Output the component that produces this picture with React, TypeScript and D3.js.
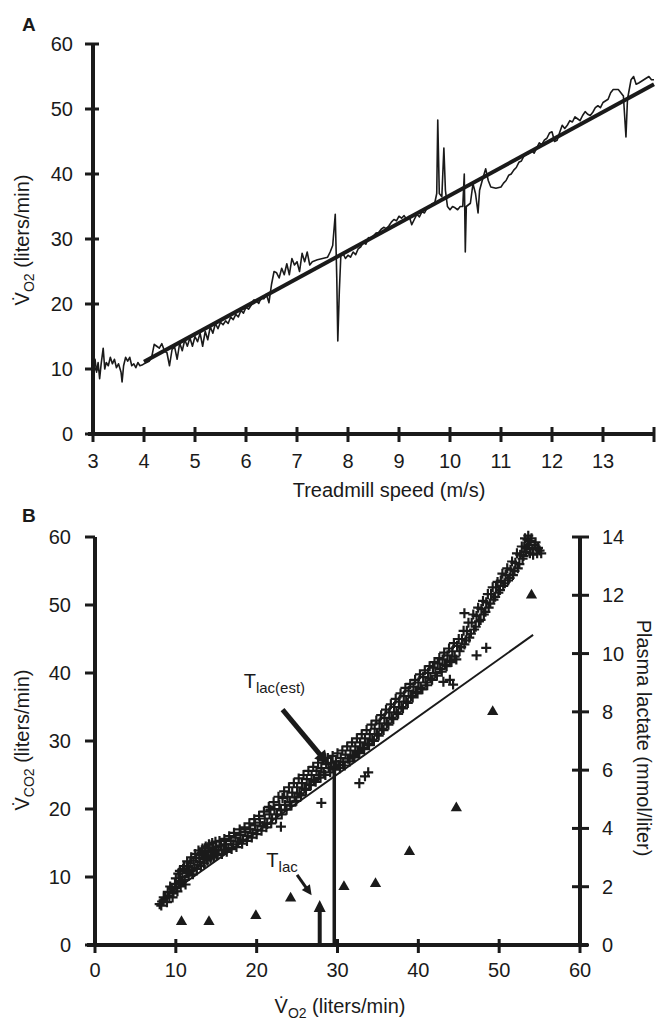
import React from 'react';
import * as d3 from 'd3';

// ---------- Panel A data ----------
const speedA = [3.00,3.04,3.07,3.10,3.13,3.16,3.20,3.23,3.26,3.30,3.34,3.38,3.42,3.46,3.50,3.55,3.57,3.60,3.64,3.68,3.72,3.76,3.80,3.84,3.88,3.92,3.96,4.00,4.05,4.10,4.15,4.20,4.25,4.30,4.35,4.40,4.45,4.50,4.55,4.60,4.65,4.70,4.75,4.80,4.85,4.90,4.95,5.00,5.05,5.10,5.15,5.20,5.25,5.30,5.35,
5.40,5.45,5.50,5.55,5.60,5.65,5.70,5.75,5.80,5.85,5.90,5.95,6.00,6.05,6.10,6.15,6.20,6.25,6.30,6.35,6.40,
6.45,6.50,6.55,6.60,6.65,6.70,6.75,6.80,6.85,6.90,6.95,7.00,7.05,7.10,7.15,7.20,7.25,7.30,7.40,7.50,7.60,7.65,7.70,7.75,7.78,7.80,7.83,7.86,
7.90,7.95,8.00,8.05,8.10,8.15,8.20,8.25,8.30,8.35,8.40,8.45,8.50,8.55,8.60,8.65,8.70,8.75,8.80,8.85,8.90,8.95,9.00,9.05,9.10,9.15,9.20,9.25,9.30,9.35,9.40,9.45,9.50,9.55,9.60,9.65,9.70,
9.74,9.76,9.79,9.84,9.88,9.91,9.95,10.00,10.05,10.10,10.15,10.20,10.25,10.28,10.30,10.32,10.40,10.45,10.50,10.55,10.58,10.65,10.70,10.75,10.80,10.90,
11.00,11.05,11.10,11.15,11.20,11.25,11.30,11.35,11.40,11.45,11.50,11.55,11.60,11.65,11.70,11.75,11.80,11.85,11.90,11.95,12.00,12.05,12.10,12.15,12.20,12.25,12.30,12.35,12.40,12.45,12.50,12.55,12.60,12.65,12.70,12.75,12.80,12.85,12.90,12.95,
13.00,13.10,13.15,13.20,13.30,13.40,13.45,13.48,13.55,13.60,13.65,13.70,13.80,13.90,13.95,14.00];
const vo2A = [10.5,11.5,9.5,11.0,8.5,10.8,13.2,10.0,11.0,10.5,11.8,10.8,11.5,10.2,10.8,9.5,8.0,10.5,11.8,11.2,11.8,10.5,10.8,10.2,11.0,10.5,10.6,10.8,11.0,11.2,11.8,13.8,13.5,13.2,13.9,12.8,12.5,10.5,13.0,13.4,11.5,14.0,12.8,14.5,13.5,14.8,13.5,15.0,14.2,15.5,13.5,15.8,14.5,16.5,15.5,
17.0,16.2,17.2,16.8,17.4,17.0,18.0,17.6,18.4,18.0,19.0,18.6,19.5,19.2,19.8,20.6,20.5,20.1,21.0,20.8,21.5,
20.2,23.0,25.0,24.8,24.0,25.5,24.5,26.2,24.5,27.0,26.0,26.5,25.0,27.8,26.5,28.0,26.0,26.5,26.8,27.0,27.2,28.0,29.0,33.8,24.0,14.3,22.0,27.5,
27.8,27.0,27.5,27.2,28.0,27.6,28.5,28.8,29.5,29.2,30.2,30.0,30.5,30.9,31.0,31.5,31.8,31.6,32.0,32.6,33.0,32.8,33.5,33.2,33.6,33.0,33.5,32.2,33.0,33.8,33.4,34.2,34.0,34.8,35.0,35.4,35.5,
37.0,48.3,37.0,36.5,44.0,37.5,35.0,34.5,35.0,34.8,34.5,35.0,35.0,40.0,28.0,35.0,35.5,38.5,37.0,34.0,37.5,39.5,40.8,39.0,38.0,37.8,
38.0,38.6,39.0,39.8,40.0,40.6,41.0,41.8,42.0,42.8,43.0,43.2,43.6,43.2,44.0,44.8,44.5,45.2,45.5,46.3,46.5,45.0,45.2,46.4,47.5,47.0,47.5,48.2,48.0,48.8,48.5,48.2,49.0,49.6,49.2,49.0,49.5,50.2,50.5,50.2,
51.0,51.5,52.5,53.0,53.0,52.0,45.7,51.5,54.5,55.0,53.8,54.0,54.5,55.0,54.5,54.5];
const fitSpeedA = [4, 14];
const fitVo2A = [11.1, 53.8];
const ticksXA = [3,4,5,6,7,8,9,10,11,12,13,14];
const labelsXA = ['3','4','5','6','7','8','9','10','11','12','13',''];
const ticksYA = [0,10,20,30,40,50,60];

// ---------- Panel B data ----------
const crossPoints: [number, number][] = [
[8.0,6.0],[8.3,6.4],[8.7,6.9],[9.0,7.8],[9.2,7.2],[9.5,8.3],[9.7,7.6],[9.9,9.0],[10.1,8.4],[10.3,10.5],[10.4,9.2],[10.6,8.6],[10.8,10.0],[10.9,11.2],[11.1,9.6],[11.3,10.8],[11.5,11.6],[11.6,10.2],[11.8,12.0],[12.0,11.0],[12.2,12.4],[12.3,11.4],[12.5,12.8],[12.7,11.8],[12.9,13.2],[13.0,12.2],[13.2,13.5],[13.4,12.6],[13.6,13.8],[13.8,12.9],[14.0,13.6],[14.2,14.2],[14.4,13.2],[14.6,14.0],[14.8,13.5],[15.0,14.4],[15.3,13.9],[15.6,14.6],[15.9,14.0],[16.2,14.8],[16.5,14.3],[16.8,15.3],[17.1,14.8],[17.4,15.8],[17.7,15.2],[18.0,16.2],[18.3,15.5],[18.6,16.6],[18.9,16.0],[19.2,17.0],[19.5,16.5],[19.8,17.6],[20.1,16.9],[20.4,18.0],[20.7,17.5],[21.0,18.6],[21.3,17.8],[21.6,19.2],[21.9,18.6],[22.2,20.0],[22.5,19.2],[22.8,20.6],[23.0,19.8],[23.2,21.6],[23.5,20.6],[23.8,21.8],[24.1,21.0],[24.4,22.4],[24.7,21.7],[25.0,23.2],[25.3,22.3],[25.6,23.8],[25.9,23.0],[26.2,24.4],[26.5,23.6],[26.8,25.0],[27.1,24.3],[27.4,25.6],[27.7,25.0],[28.0,26.0],[28.3,25.4],[28.6,26.6],[28.9,26.0],[29.2,26.8],[29.5,26.2],[29.8,27.0],[30.1,26.5],[30.4,27.5],[30.7,26.9],[31.0,28.0],[31.3,27.4],[31.6,28.6],[31.9,27.9],[32.2,29.2],[32.5,28.5],[32.8,29.8],[33.1,29.0],[33.4,30.4],[33.7,29.6],[34.0,31.0],[34.3,30.2],[34.6,31.8],[34.9,31.0],[35.2,32.6],[35.5,31.8],[35.8,33.4],[36.1,32.6],[36.4,34.2],[36.7,33.4],[37.0,35.0],[37.3,34.2],[37.6,35.8],[37.9,35.0],[38.2,36.6],[38.5,35.8],[38.8,37.4],[39.1,36.6],[39.4,38.0],[39.7,37.2],[40.0,38.6],[40.3,37.8],[40.6,39.4],[40.9,38.6],[41.2,40.0],[41.5,39.2],[41.8,40.8],[42.1,40.0],[42.4,41.4],[42.7,40.6],[43.0,42.0],[43.3,41.2],[43.6,42.6],[43.9,41.8],[44.2,43.2],[44.5,42.4],[44.8,44.0],[45.1,43.2],[45.4,45.0],[45.7,44.2],[46.0,46.2],[46.3,45.2],[46.6,47.4],[46.9,46.4],[47.2,48.4],[47.5,47.6],[47.8,49.4],[48.1,48.6],[48.4,50.4],[48.7,49.6],[49.0,51.6],[49.3,50.8],[49.6,52.6],[49.9,51.8],[50.2,53.6],[50.5,52.8],[50.8,54.4],[51.1,53.6],[51.4,55.2],[51.7,54.4],[52.0,56.2],[52.3,55.4],[52.6,57.4],[52.9,56.8],[53.1,58.6],[53.3,57.8],[53.5,59.6],[53.7,58.8],[53.9,59.4],[54.1,58.2],[54.4,58.8],[54.7,57.6],[55.0,58.0],
[23.0,17.4],[28.0,20.9],[32.7,23.8],[33.8,25.4],[33.4,24.8],[43.1,38.7],[43.9,39.0],[44.3,38.3],[45.7,48.8],[47.2,42.6],[48.4,43.7],[11.5,10.6],[21.7,19.9]
];
const crossPoints2: [number, number][] = [
[8.2,5.8],[8.5,7.0],[8.9,6.3],[9.3,8.6],[9.6,7.0],[10.0,9.8],[10.2,7.9],[10.5,10.9],[10.7,9.4],[11.0,11.6],[11.2,8.9],[11.4,12.3],[11.7,10.9],[11.9,12.9],[12.1,10.4],[12.4,13.4],[12.6,11.2],[12.8,13.9],[13.1,11.6],[13.3,14.2],[13.5,12.0],[13.7,14.5],[13.9,12.4],[14.1,14.8],[14.3,12.7],[14.5,15.0],[14.7,12.9],[14.9,15.2],[15.1,13.2],[15.4,15.3],[15.7,13.4],[16.0,15.6],[16.3,13.7],[16.6,16.0],[16.9,14.1],[17.2,16.5],[17.5,14.4],
[17.9,17.0],[18.2,14.9],[18.5,17.3],[18.8,15.3],[19.1,17.9],[19.4,15.8],[19.7,18.5],[20.0,16.3],[20.3,19.0],[20.6,16.8],[20.9,19.6],[21.2,17.3],[21.5,20.3],[21.8,17.9],[22.1,21.0],[22.4,18.6],[22.7,21.8],[23.1,19.2],[23.4,22.6],[23.7,19.9],[24.0,23.2],[24.3,20.5],[24.6,23.8],[24.9,21.2],[25.2,24.5],[25.5,22.0],[25.8,25.0],[26.1,22.8],[26.4,25.6],[26.7,23.5],[27.0,26.2],[27.3,24.0],[27.6,26.8],[27.9,24.6],[28.2,27.2],[28.5,25.0],[28.8,27.5],[29.1,25.4],[29.4,27.8],[29.7,25.8],[30.0,28.2],[30.3,26.0],
[30.6,28.6],[30.9,26.4],[31.2,29.2],[31.5,27.0],[31.8,29.8],[32.1,27.6],[32.4,30.4],[32.7,28.2],[33.0,31.0],[33.3,28.8],[33.6,31.6],[33.9,29.4],[34.2,32.4],[34.5,30.0],[34.8,33.0],[35.1,30.8],[35.4,33.8],[35.7,31.6],[36.0,34.6],[36.3,32.4],[36.6,35.4],[36.9,33.2],[37.2,36.2],[37.5,34.0],[37.8,37.0],[38.1,34.8],[38.4,37.8],[38.7,35.6],[39.0,38.4],[39.3,36.4],[39.6,39.0],[39.9,37.0],[40.2,39.8],[40.5,37.6],[40.8,40.4],[41.1,38.2],[41.4,41.0],[41.7,39.0],[42.0,41.6],[42.3,39.6],[42.6,42.2],[42.9,40.2],[43.2,43.0],[43.5,41.0],[43.8,43.6],[44.1,41.6],[44.4,44.4],[44.7,42.0],[45.0,45.0],
[45.3,43.8],[45.6,46.2],[45.9,44.8],[46.2,47.4],[46.5,45.8],[46.8,48.6],[47.1,46.8],[47.4,49.6],[47.7,47.8],[48.0,50.6],[48.3,49.0],[48.6,51.6],[48.9,50.2],[49.2,52.6],[49.5,51.2],[49.8,53.4],[50.1,52.2],[50.4,54.6],[50.7,53.2],[51.0,55.4],[51.3,54.0],[51.6,56.4],[51.9,55.0],[52.2,57.6],[52.5,56.0],[52.8,58.6],[53.0,57.2],[53.2,59.8],[53.4,58.4],[53.6,60.2],[53.8,57.6],[54.0,59.8],[54.2,57.4],[54.5,59.2],[54.8,58.4],[55.2,57.6]
];
const fitVo2B = [8, 54.2];
const fitVco2B = [6.5, 45.6];
const lactVo2 = [10.7,14.1,19.9,24.2,30.8,34.7,38.9,44.7,49.2,54.0];
const lactVal = [0.8,0.8,1.0,1.6,2.0,2.1,3.2,4.7,8.0,12.0];
const ticksXB = [0,10,20,30,40,50,60];
const ticksYB = [0,10,20,30,40,50,60];
const ticksRB = [0,2,4,6,8,10,12,14];
// annotations (data units: VO2, VCO2)
const tlacEstX = 29.6, tlacEstTop = 26.0;
const tlacEstArrow = [[23.2, 34.6], [28.9, 26.5]];
const tlacEstLabel = [18.4, 37.8];
const tlacX = 27.8, tlacTop = 6.6;
const tlacArrow = [[25.0, 10.3], [26.8, 7.3]];
const tlacLabel = [21.2, 11.5];

const FONT = '"Liberation Sans", Arial, Helvetica, sans-serif';
const INK = '#1a1a1a';

function Arrow({ x1, y1, x2, y2, w, hl, hw }: any) {
  const dx = x2 - x1, dy = y2 - y1, L = Math.hypot(dx, dy);
  const ux = dx / L, uy = dy / L;
  const bx = x2 - ux * hl, by = y2 - uy * hl;
  const px = -uy, py = ux;
  return (
    <g>
      <line x1={x1} y1={y1} x2={bx + ux * 2} y2={by + uy * 2} stroke={INK} strokeWidth={w} />
      <polygon points={`${x2},${y2} ${bx + px * hw},${by + py * hw} ${bx - px * hw},${by - py * hw}`} fill={INK} />
    </g>
  );
}

export default function App() {
  const xA = d3.scaleLinear().domain([3, 14]).range([93, 654]);
  const yA = d3.scaleLinear().domain([0, 60]).range([434, 44]);
  const xB = d3.scaleLinear().domain([0, 60]).range([95, 580]);
  const yB = d3.scaleLinear().domain([0, 60]).range([945, 537]);
  const yR = d3.scaleLinear().domain([0, 14]).range([945, 537]);

  const traceA = d3.line<number>().x((_, i) => xA(speedA[i])).y((d) => yA(d)).curve(d3.curveLinear)(vo2A) || '';
  const crossPath = crossPoints.concat(crossPoints2).map(([a, b]) => {
    const cx = xB(a), cy = yB(b);
    return `M${cx - 5},${cy}h10M${cx},${cy - 5}v10`;
  }).join('');
  const tri = d3.symbol().type(d3.symbolTriangle).size(55)() || '';

  const fs = 20;
  return (
    <svg width={656} height={1021} style={{ position: 'absolute', left: 0, top: 0, background: '#fff' }} fontFamily={FONT}>
      <rect x={0} y={0} width={656} height={1021} fill="#fff" />
      {/* ================= Panel A ================= */}
      <text x={22} y={31} fontSize={19} fontWeight="bold" fill={INK}>A</text>
      <line x1={xA(3)} y1={yA(60)} x2={xA(3)} y2={yA(0) + 2} stroke={INK} strokeWidth={4} />
      <line x1={88} y1={yA(0)} x2={xA(14)} y2={yA(0)} stroke={INK} strokeWidth={4} />
      {ticksYA.map((t) => (
        <g key={'ya' + t}>
          <line x1={xA(3) - 8} x2={xA(3) + 6} y1={yA(t)} y2={yA(t)} stroke={INK} strokeWidth={3} />
          <text x={73} y={yA(t) + 7} fontSize={fs} textAnchor="end" fill={INK}>{t}</text>
        </g>
      ))}
      {ticksXA.map((t, i) => (
        <g key={'xa' + t}>
          <line x1={xA(t)} x2={xA(t)} y1={yA(0) - 7} y2={yA(0) + 8} stroke={INK} strokeWidth={3} />
          <text x={xA(t)} y={468} fontSize={fs} textAnchor="middle" fill={INK}>{labelsXA[i]}</text>
        </g>
      ))}
      <text x={389} y={497} fontSize={fs} textAnchor="middle" fill={INK}>Treadmill speed (m/s)</text>
      <text transform="translate(29,240) rotate(-90)" fontSize={fs} textAnchor="middle" fill={INK}>
        {'V\u0307'}<tspan fontSize={14} dy={5}>O2</tspan><tspan dy={-5}> (liters/min)</tspan>
      </text>
      <path d={traceA} fill="none" stroke={INK} strokeWidth={1.6} strokeLinejoin="round" />
      <line x1={xA(fitSpeedA[0])} y1={yA(fitVo2A[0])} x2={xA(fitSpeedA[1])} y2={yA(fitVo2A[1])} stroke={INK} strokeWidth={4} />

      {/* ================= Panel B ================= */}
      <text x={22} y={522} fontSize={19} fontWeight="bold" fill={INK}>B</text>
      <line x1={xB(0)} y1={yB(60)} x2={xB(0)} y2={yB(0) + 2} stroke={INK} strokeWidth={4} />
      <line x1={xB(60)} y1={yR(14)} x2={xB(60)} y2={yR(0) + 2} stroke={INK} strokeWidth={4} />
      <line x1={87} y1={yB(0)} x2={588} y2={yB(0)} stroke={INK} strokeWidth={4} />
      {ticksYB.map((t) => (
        <g key={'yb' + t}>
          <line x1={xB(0) - 10} x2={xB(0)} y1={yB(t)} y2={yB(t)} stroke={INK} strokeWidth={3} />
          <text x={71} y={yB(t) + 7} fontSize={fs} textAnchor="end" fill={INK}>{t}</text>
        </g>
      ))}
      {ticksRB.map((t) => (
        <g key={'rb' + t}>
          <line x1={xB(60) - 8} x2={xB(60) + 9} y1={yR(t)} y2={yR(t)} stroke={INK} strokeWidth={3} />
          <text x={602} y={yR(t) + 7} fontSize={fs} textAnchor="start" fill={INK}>{t}</text>
        </g>
      ))}
      {ticksXB.map((t) => (
        <g key={'xb' + t}>
          <line x1={xB(t)} x2={xB(t)} y1={yB(0) - 6} y2={yB(0) + 8} stroke={INK} strokeWidth={3} />
          <text x={xB(t)} y={977} fontSize={fs} textAnchor="middle" fill={INK}>{t}</text>
        </g>
      ))}
      <text x={340} y={1013} fontSize={fs} textAnchor="middle" fill={INK}>
        {'V\u0307'}<tspan fontSize={14} dy={5}>O2</tspan><tspan dy={-5}> (liters/min)</tspan>
      </text>
      <text transform="translate(29,740) rotate(-90)" fontSize={fs} textAnchor="middle" fill={INK}>
        {'V\u0307'}<tspan fontSize={14} dy={5}>CO2</tspan><tspan dy={-5}> (liters/min)</tspan>
      </text>
      <text transform="translate(637,738) rotate(90)" fontSize={fs} textAnchor="middle" fill={INK}>Plasma lactate (mmol/liter)</text>

      <path d={crossPath} fill="none" stroke={INK} strokeWidth={2.2} />
      <line x1={xB(fitVo2B[0])} y1={yB(fitVco2B[0])} x2={xB(fitVo2B[1])} y2={yB(fitVco2B[1])} stroke={INK} strokeWidth={2} />
      {lactVo2.map((v, i) => (
        <path key={'tr' + i} d={tri} transform={`translate(${xB(v)},${yR(lactVal[i])})`} fill={INK} />
      ))}
      <line x1={xB(tlacEstX)} x2={xB(tlacEstX)} y1={yB(0)} y2={yB(tlacEstTop)} stroke={INK} strokeWidth={3.5} />
      <Arrow x1={xB(tlacEstArrow[0][0])} y1={yB(tlacEstArrow[0][1])} x2={xB(tlacEstArrow[1][0])} y2={yB(tlacEstArrow[1][1])} w={5} hl={14} hw={7} />
      <text x={xB(tlacEstLabel[0])} y={yB(tlacEstLabel[1])} fontSize={fs} fill={INK}>
        T<tspan fontSize={15} dy={5}>lac(est)</tspan>
      </text>
      <Arrow x1={xB(tlacX)} y1={yB(0)} x2={xB(tlacX)} y2={yB(tlacTop)} w={4} hl={12} hw={6} />
      <Arrow x1={xB(tlacArrow[0][0])} y1={yB(tlacArrow[0][1])} x2={xB(tlacArrow[1][0])} y2={yB(tlacArrow[1][1])} w={3} hl={10} hw={5} />
      <text x={xB(tlacLabel[0])} y={yB(tlacLabel[1])} fontSize={fs} fill={INK}>
        T<tspan fontSize={15} dy={5}>lac</tspan>
      </text>
    </svg>
  );
}
